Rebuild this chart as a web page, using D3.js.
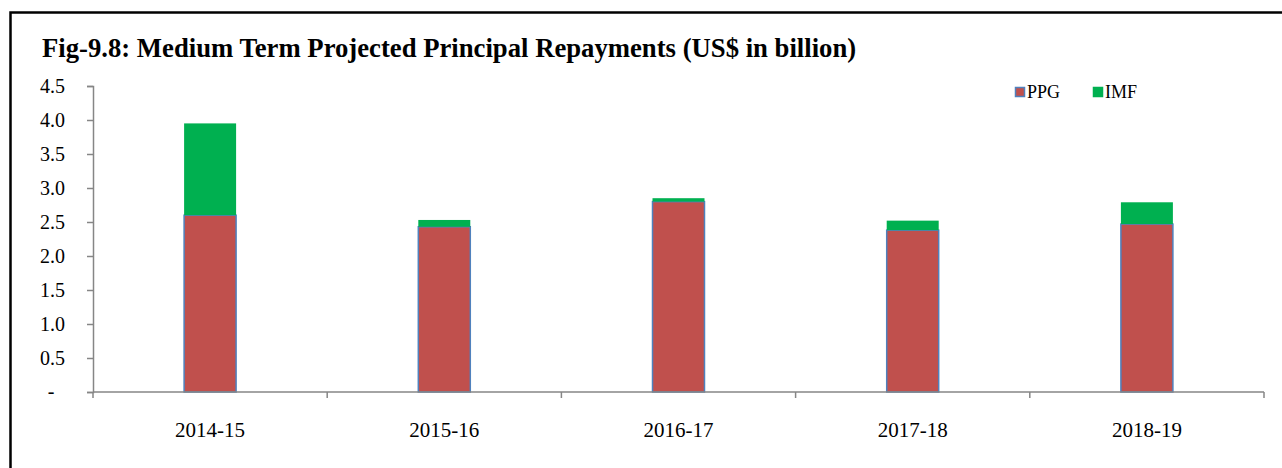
<!DOCTYPE html>
<html>
<head>
<meta charset="utf-8">
<script src="https://cdn.jsdelivr.net/npm/d3@7/dist/d3.min.js"></script>
<style>
  html, body { margin: 0; padding: 0; background: #fff; }
  svg { display: block; font-family: "Liberation Serif", "Times New Roman", serif; }
</style>
</head>
<body>
<svg id="chart" width="1282" height="468"></svg>
<script>
// Fiscal years on the category axis
const years = ["2014-15", "2015-16", "2016-17", "2017-18", "2018-19"];
// Projected principal repayments, US$ billion
const ppg = [2.60, 2.43, 2.80, 2.38, 2.47];
const imf = [1.35, 0.10, 0.05, 0.14, 0.32];
const seriesNames = ["PPG", "IMF"];
const yTicks = [0, 0.5, 1.0, 1.5, 2.0, 2.5, 3.0, 3.5, 4.0, 4.5];
const titleText = "Fig-9.8: Medium Term Projected Principal Repayments (US$ in billion)";

const colors = { PPG: "#C0504D", IMF: "#00B050" };
const ppgEdge = "#4F81BD";
const axisColor = "#868686";

const svg = d3.select("#chart");

// Outer frame
svg.append("rect")
  .attr("x", 10.5).attr("y", 12.5)
  .attr("width", 1290).attr("height", 480)
  .attr("fill", "none").attr("stroke", "#000").attr("stroke-width", 2.5);

// Title
svg.append("text")
  .attr("x", 42).attr("y", 57)
  .attr("font-size", 26.7).attr("font-weight", "bold")
  .attr("fill", "#000")
  .text(titleText);

const plot = { left: 93, right: 1264, top: 86, bottom: 392 };

const x = d3.scaleBand().domain(years).range([plot.left, plot.right]).padding(0);
const y = d3.scaleLinear().domain([0, 4.5]).range([plot.bottom, plot.top]);

const barW = x.bandwidth() * 0.222;

// Stacked data
const rows = years.map((yr, i) => ({ year: yr, PPG: ppg[i], IMF: imf[i] }));
const stacked = d3.stack().keys(seriesNames)(rows);

// Y axis
const yAxis = d3.axisLeft(y)
  .tickValues(yTicks)
  .tickSize(6)
  .tickPadding(22)
  .tickFormat(d => d === 0 ? "" : d3.format(".1f")(d));
const gy = svg.append("g").attr("transform", `translate(${plot.left},0)`).call(yAxis);
gy.select(".domain").attr("stroke", axisColor).attr("stroke-width", 1.5);
gy.selectAll(".tick line").attr("stroke", axisColor).attr("stroke-width", 1.5);
gy.selectAll(".tick text")
  .attr("font-size", 20).attr("fill", "#000")
  .attr("font-family", "Liberation Serif, Times New Roman, serif");
// Zero shown as a dash in accounting style
svg.append("text")
  .attr("x", 51).attr("y", y(0)).attr("dy", "0.32em")
  .attr("text-anchor", "middle").attr("font-size", 20).attr("fill", "#000")
  .text("-");

// Bars
const layers = svg.append("g").selectAll("g")
  .data(stacked)
  .join("g")
  .attr("fill", d => colors[d.key]);

layers.each(function(layer) {
  const g = d3.select(this);
  g.selectAll("rect")
    .data(layer)
    .join("rect")
    .attr("x", d => x(d.data.year) + (x.bandwidth() - barW) / 2)
    .attr("y", d => y(d[1]))
    .attr("width", barW)
    .attr("height", d => y(d[0]) - y(d[1]))
    .attr("stroke", layer.key === "PPG" ? ppgEdge : "none")
    .attr("stroke-width", layer.key === "PPG" ? 1.5 : 0);
});

// X axis with ticks between categories
const xAxisG = svg.append("g").attr("transform", `translate(0,${plot.bottom})`);
xAxisG.append("line")
  .attr("x1", plot.left).attr("x2", plot.right)
  .attr("stroke", axisColor).attr("stroke-width", 1.5);
const boundaries = years.map(yr => x(yr)).concat([x(years[years.length - 1]) + x.bandwidth()]);
xAxisG.selectAll("line.tk")
  .data(boundaries)
  .join("line")
  .attr("class", "tk")
  .attr("x1", d => d).attr("x2", d => d)
  .attr("y1", 0).attr("y2", 6)
  .attr("stroke", axisColor).attr("stroke-width", 1.5);
xAxisG.selectAll("text")
  .data(years)
  .join("text")
  .attr("x", d => x(d) + x.bandwidth() / 2)
  .attr("y", 45)
  .attr("text-anchor", "middle")
  .attr("font-size", 21).attr("fill", "#000")
  .text(d => d);

// Legend
const legend = svg.append("g");
const legendX = [1015, 1093];
seriesNames.forEach((name, i) => {
  const g = legend.append("g").attr("transform", `translate(${legendX[i]},87)`);
  g.append("rect")
    .attr("x", 0.5).attr("y", 0.5).attr("width", 9).attr("height", 9)
    .attr("fill", colors[name])
    .attr("stroke", name === "PPG" ? ppgEdge : colors[name])
    .attr("stroke-width", 1.5);
  g.append("text")
    .attr("x", 12).attr("y", 10.5)
    .attr("font-size", 18).attr("fill", "#000")
    .text(name);
});
</script>
</body>
</html>
